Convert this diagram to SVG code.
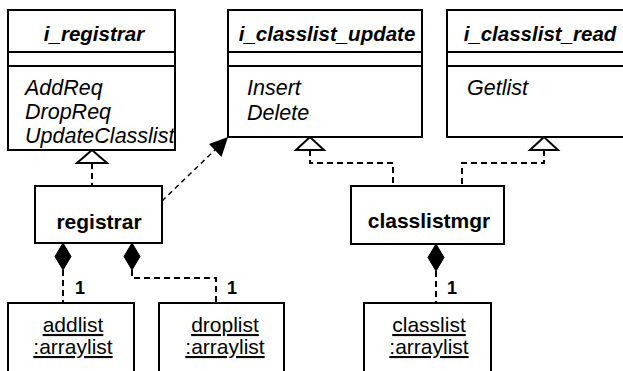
<svg xmlns="http://www.w3.org/2000/svg" width="623" height="371" viewBox="0 0 623 371">
<style>
.box{fill:#fff;stroke:#000;stroke-width:2}
.sep{stroke:#000;stroke-width:2}
.title{font-family:"Liberation Sans",Arial,sans-serif;font-size:20.5px;font-weight:bold;font-style:italic;text-anchor:middle}
.op{font-family:"Liberation Sans",Arial,sans-serif;font-size:21.5px;font-style:italic}
.name{font-family:"Liberation Sans",Arial,sans-serif;font-size:21px;font-weight:bold;text-anchor:middle}
.obj{font-family:"Liberation Sans",Arial,sans-serif;font-size:21px;text-anchor:middle;text-decoration:underline}
.mult{font-family:"Liberation Sans",Arial,sans-serif;font-size:18px;font-weight:bold}
.dash{fill:none;stroke:#000;stroke-width:2;stroke-dasharray:6 4}
.dep{fill:none;stroke:#000;stroke-width:1.5;stroke-dasharray:5 4}
.tri{fill:#fff;stroke:#000;stroke-width:2}
.dia{fill:#000;stroke:#000;stroke-width:1}
</style>
<rect width="623" height="371" fill="#fff"/>
<g id="connectors">
  <path class="dash" d="M92,163 V186"/>
  <path class="dash" d="M310,150 V163 H393 V186"/>
  <path class="dash" d="M544,150 V163 H462 V186"/>
  <path class="dep" d="M162,201 L216,149"/>
  <polygon points="228,137 221.5,157 209,144" fill="#000"/>
  <polygon class="tri" points="92,150 77,163 107,163"/>
  <polygon class="tri" points="310,137 296,150 324,150"/>
  <polygon class="tri" points="544,137 530,150 558,150"/>
  <path class="dash" d="M63,270 V303"/>
  <path class="dash" d="M132,270 V278 H216 V303"/>
  <path class="dash" d="M436,271 V303"/>
  <polygon class="dia" points="63,243 71,256.5 63,270 55,256.5"/>
  <polygon class="dia" points="132,243 140,256.5 132,270 124,256.5"/>
  <polygon class="dia" points="436,244 444,257.5 436,271 428,257.5"/>
  <text class="mult" x="75" y="294">1</text>
  <text class="mult" x="227" y="294">1</text>
  <text class="mult" x="447" y="294">1</text>
</g>
<g id="i_registrar">
  <rect class="box" x="8" y="10" width="167" height="140"/>
  <line class="sep" x1="8" y1="52" x2="175" y2="52"/>
  <line class="sep" x1="8" y1="66" x2="175" y2="66"/>
  <text class="title" x="94" y="41">i_registrar</text>
  <text class="op" x="25" y="95">AddReq</text>
  <text class="op" x="25" y="119">DropReq</text>
  <text class="op" x="25" y="143">UpdateClasslist</text>
</g>
<g id="i_classlist_update">
  <rect class="box" x="228" y="10" width="194" height="127"/>
  <line class="sep" x1="228" y1="52" x2="422" y2="52"/>
  <line class="sep" x1="228" y1="66" x2="422" y2="66"/>
  <text class="title" x="327" y="41">i_classlist_update</text>
  <text class="op" x="247" y="95">Insert</text>
  <text class="op" x="247" y="120">Delete</text>
</g>
<g id="i_classlist_read">
  <rect class="box" x="447" y="10" width="190" height="127"/>
  <line class="sep" x1="447" y1="52" x2="637" y2="52"/>
  <line class="sep" x1="447" y1="66" x2="637" y2="66"/>
  <text class="title" x="540" y="41">i_classlist_read</text>
  <text class="op" x="467" y="95">Getlist</text>
</g>
<g id="registrar">
  <rect class="box" x="35" y="186" width="127" height="57"/>
  <text class="name" x="99" y="229">registrar</text>
</g>
<g id="classlistmgr">
  <rect class="box" x="351" y="186" width="153" height="58"/>
  <text class="name" x="429" y="228">classlistmgr</text>
</g>
<g id="addlist">
  <rect class="box" x="8" y="303" width="126" height="80"/>
  <text class="obj" x="73" y="332">addlist</text>
  <text class="obj" x="73" y="354">:arraylist</text>
</g>
<g id="droplist">
  <rect class="box" x="159" y="303" width="125" height="80"/>
  <text class="obj" x="225" y="332">droplist</text>
  <text class="obj" x="225" y="354">:arraylist</text>
</g>
<g id="classlist">
  <rect class="box" x="364" y="303" width="127" height="80"/>
  <text class="obj" x="429" y="332">classlist</text>
  <text class="obj" x="429" y="354">:arraylist</text>
</g>
</svg>
